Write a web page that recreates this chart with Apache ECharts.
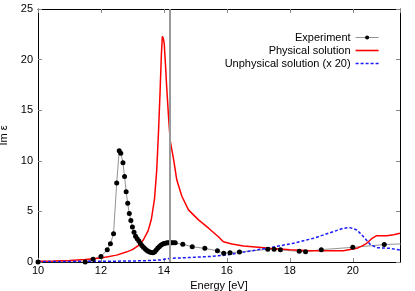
<!DOCTYPE html>
<html>
<head>
<meta charset="utf-8">
<script src="https://cdn.jsdelivr.net/npm/echarts@6/dist/echarts.min.js"></script>
<style>
html,body{margin:0;padding:0;background:#fff;}
#chart{width:415px;height:291px;}
</style>
</head>
<body>
<div id="chart"></div>
<script>
// Experiment
const expEnergy = [10.0, 11.5, 11.75, 12.0, 12.2, 12.3, 12.4, 12.5, 12.58, 12.63, 12.7, 12.75, 12.8, 12.85, 12.9, 12.95, 13.0, 13.05, 13.1, 13.15, 13.2, 13.25, 13.3, 13.35, 13.4, 13.45, 13.5, 13.55, 13.6, 13.65, 13.7, 13.75, 13.8, 13.85, 13.9, 13.95, 14.0, 14.05, 14.1, 14.15, 14.2, 14.25, 14.3, 14.36, 14.6, 14.9, 15.3, 15.7, 15.9, 16.1, 16.4, 17.3, 17.5, 17.7, 18.3, 18.5, 19.0, 20.0, 21.0, 22.0];
const expIm = [0.0, 0.0, 0.27, 0.55, 1.2, 1.8, 2.8, 7.8, 11.0, 10.75, 9.8, 8.45, 6.95, 5.8, 4.8, 4.1, 3.45, 2.95, 2.55, 2.3, 2.1, 1.85, 1.62, 1.45, 1.3, 1.17, 1.06, 0.98, 0.93, 0.92, 1.0, 1.15, 1.35, 1.5, 1.65, 1.75, 1.82, 1.86, 1.89, 1.9, 1.91, 1.91, 1.9, 1.9, 1.75, 1.5, 1.35, 1.1, 0.87, 0.92, 1.0, 1.25, 1.25, 1.2, 1.05, 1.02, 1.22, 1.45, 1.72, 1.85];

// Physical solution
const physEnergy = [10.0, 10.5, 11.0, 11.5, 12.0, 12.5, 12.8, 13.0, 13.2, 13.35, 13.5, 13.6, 13.7, 13.77, 13.83, 13.88, 13.92, 13.95, 13.98, 14.01, 14.05, 14.09, 14.15, 14.2, 14.31, 14.41, 14.57, 14.78, 15.1, 15.42, 15.73, 15.89, 16.16, 16.53, 17.37, 18.0, 18.64, 19.2, 19.7, 20.13, 20.3, 20.44, 20.6, 20.76, 21.08, 21.3, 21.5];
const physIm = [0.08, 0.1, 0.14, 0.24, 0.4, 0.68, 0.98, 1.22, 1.65, 2.2, 3.1, 4.2, 6.2, 9.0, 13.0, 17.0, 20.5, 22.3, 22.1, 21.6, 19.5, 17.2, 14.2, 12.0, 10.1, 8.1, 6.5, 5.15, 4.16, 3.34, 2.5, 2.0, 1.78, 1.58, 1.35, 1.22, 1.12, 1.1, 1.12, 1.35, 1.6, 1.85, 2.3, 2.6, 2.6, 2.7, 2.84];

// Unphysical solution (x 20)
const unphysEnergy = [10.0, 11.0, 12.0, 13.0, 13.5, 13.89, 14.2, 14.94, 15.5, 16.0, 16.63, 17.37, 18.11, 18.75, 19.38, 19.7, 19.91, 20.13, 20.34, 20.55, 20.76, 21.18, 21.5];
const unphysIm = [0.05, 0.06, 0.07, 0.1, 0.14, 0.2, 0.36, 0.46, 0.55, 0.69, 1.02, 1.42, 1.85, 2.34, 3.0, 3.33, 3.4, 3.17, 2.5, 1.75, 1.42, 1.35, 1.19];

const markerEnergy = 14.2;

const xTicks = {min: 10, max: 21.5, interval: 2};
const yTicks = {min: 0, max: 25, interval: 5};

const zip = (a, b) => a.map((v, i) => [v, b[i]]);

const chart = echarts.init(document.getElementById('chart'), null, {renderer: 'canvas'});
const font = 'Liberation Sans, Arial, sans-serif';

const solidIcon = 'path://M0,0h23v1.6h-23z';
const dashIcon = 'path://M0,0h3v1.6h-3z M5,0h3v1.6h-3z M10,0h3v1.6h-3z M15,0h3v1.6h-3z M20,0h3v1.6h-3z';

const baseAxis = {
  type: 'value',
  axisLine: {show: true, onZero: false, lineStyle: {color: '#000', width: 1}},
  axisTick: {show: true, inside: true, length: 4, lineStyle: {color: '#888', width: 1}},
  splitLine: {show: false},
  axisLabel: {color: '#000', fontSize: 11, fontFamily: font},
  nameTextStyle: {color: '#000', fontSize: 11, fontFamily: font}
};

chart.setOption({
  animation: false,
  backgroundColor: '#fff',
  grid: {left: 38, right: 15, top: 9, bottom: 29, containLabel: false, outerBoundsMode: 'none'},
  legend: {
    orient: 'vertical',
    right: 31,
    top: 27,
    align: 'right',
    itemWidth: 23,
    itemHeight: 5,
    itemGap: 2,
    textStyle: {color: '#000', fontSize: 11, fontFamily: font},
    data: [
      {name: 'Experiment', lineStyle: {width: 0.8, color: '#777'}},
      {name: 'Physical solution', icon: solidIcon, itemStyle: {color: '#ff0000'}},
      {name: 'Unphysical solution (x 20)', icon: dashIcon, itemStyle: {color: '#1a1aff'}}
    ]
  },
  xAxis: [
    Object.assign({}, baseAxis, {
      position: 'bottom', min: xTicks.min, max: xTicks.max, interval: xTicks.interval,
      name: 'Energy [eV]', nameLocation: 'middle', nameGap: 15,
      axisLabel: Object.assign({}, baseAxis.axisLabel, {margin: 3, showMaxLabel: false})
    }),
    Object.assign({}, baseAxis, {
      position: 'top', min: xTicks.min, max: xTicks.max, interval: xTicks.interval,
      axisLabel: {show: false}
    })
  ],
  yAxis: [
    Object.assign({}, baseAxis, {
      position: 'left', min: yTicks.min, max: yTicks.max, interval: yTicks.interval,
      name: 'Im ε', nameLocation: 'middle', nameGap: 19, nameRotate: 90,
      axisLabel: Object.assign({}, baseAxis.axisLabel, {margin: 5})
    }),
    Object.assign({}, baseAxis, {
      position: 'right', min: yTicks.min, max: yTicks.max, interval: yTicks.interval,
      axisLabel: {show: false}
    })
  ],
  series: [
    {
      name: 'marker',
      type: 'line',
      data: [],
      silent: true,
      markLine: {
        symbol: 'none',
        silent: true,
        label: {show: false},
        lineStyle: {color: '#999', width: 2, type: 'solid'},
        data: [{xAxis: markerEnergy}]
      }
    },
    {
      name: 'Experiment',
      type: 'line',
      data: zip(expEnergy, expIm),
      symbol: 'circle',
      symbolSize: 5,
      showAllSymbol: true,
      itemStyle: {color: '#000'},
      lineStyle: {color: '#777', width: 0.8},
      clip: true
    },
    {
      name: 'Physical solution',
      type: 'line',
      data: zip(physEnergy, physIm),
      symbol: 'none',
      itemStyle: {color: '#ff0000'},
      lineStyle: {color: '#ff0000', width: 1.5},
      clip: true
    },
    {
      name: 'Unphysical solution (x 20)',
      type: 'line',
      data: zip(unphysEnergy, unphysIm),
      symbol: 'none',
      itemStyle: {color: '#1a1aff'},
      lineStyle: {color: '#1a1aff', width: 1.5, type: [3, 2]},
      clip: true
    }
  ]
});
</script>
</body>
</html>
